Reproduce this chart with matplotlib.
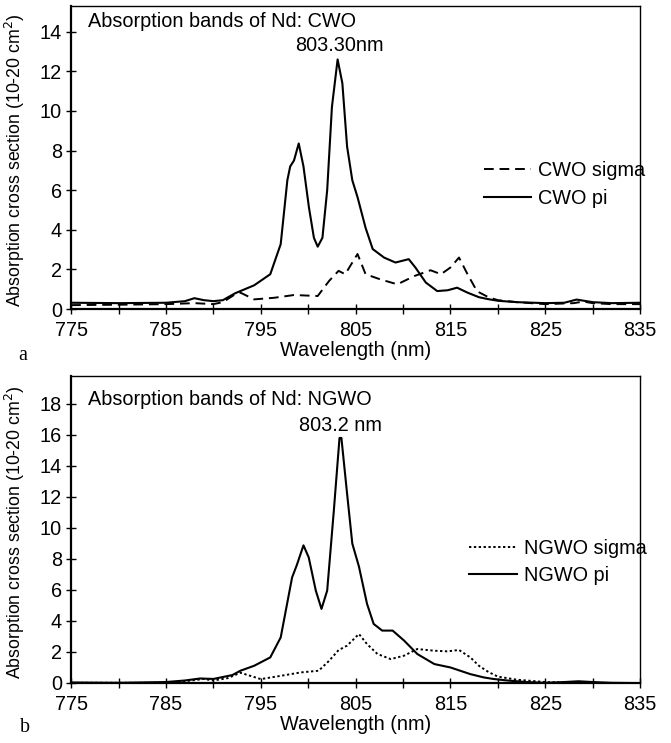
import matplotlib
matplotlib.use("Agg")
import matplotlib.pyplot as plt
import numpy as np

# ---------------------------------------------------------------------
# Values (x in nm, y in 10^-20 cm^2)
# ---------------------------------------------------------------------

cwo_pi_x = [775, 780, 785, 787, 788, 789, 790, 791, 792.3, 792.85, 794.3, 796.0, 797.1,
            797.8, 798.1, 798.5, 799.0, 799.5, 800.07, 800.6, 801.0, 801.5, 802.0,
            802.5, 803.1, 803.6, 804.1, 804.65, 805.2, 806.05, 806.8, 808.0, 809.2,
            810.6, 811.3, 812.4, 813.6, 814.7, 815.7, 816.8, 818.0, 819.0, 820, 822,
            825, 827, 828.3, 830, 832, 835]
cwo_pi_y = [0.32, 0.3, 0.32, 0.4, 0.55, 0.45, 0.4, 0.45, 0.8, 0.91, 1.2, 1.76, 3.28,
            6.5, 7.2, 7.5, 8.36, 7.2, 5.15, 3.6, 3.15, 3.6, 6.0,
            10.2, 12.6, 11.4, 8.2, 6.5, 5.65, 4.1, 3.03, 2.6, 2.35,
            2.52, 2.1, 1.34, 0.91, 0.95, 1.08, 0.83, 0.6, 0.5, 0.42, 0.35,
            0.3, 0.32, 0.48, 0.35, 0.3, 0.32]

cwo_sigma_x = [775, 780, 785, 788, 790, 791, 792.3, 792.85, 794.3, 796.4, 798.5, 801.0,
               802.2, 803.2, 803.9, 805.2, 806.05, 807.6, 809.4, 811.2, 812.9, 814.0,
               815.0, 815.9, 816.8, 817.8, 819, 820, 822, 825, 828, 829, 830, 832, 835]
cwo_sigma_y = [0.2, 0.22, 0.25, 0.3, 0.25, 0.35, 0.75, 0.83, 0.49, 0.57, 0.71, 0.66,
               1.42, 1.93, 1.76, 2.78, 1.76, 1.5, 1.25, 1.67, 1.96, 1.76,
               2.1, 2.6, 1.76, 0.9, 0.6, 0.45, 0.35, 0.25, 0.3, 0.38, 0.3, 0.25, 0.25]

ngwo_pi_x = [775, 780, 785, 787, 788.6, 790, 792, 792.85, 794.3, 796.0, 797.1, 798.3,
             798.8, 799.5, 800.05, 800.8, 801.4, 802.0, 802.7, 803.3, 803.5, 804.1,
             804.65, 805.35, 806.2, 806.9, 807.8, 808.9, 810.1, 811.5, 813.3, 815.0,
             817.1, 818.5, 819.5, 821, 823, 825, 827, 828.5, 830, 832, 835]
ngwo_pi_y = [0.02, 0.0, 0.05, 0.15, 0.28, 0.25, 0.5, 0.78, 1.1, 1.64, 2.93, 6.8,
             7.6, 8.87, 8.1, 5.95, 4.77, 5.95, 11.1, 15.8, 15.8, 12.2,
             8.98, 7.5, 5.1, 3.8, 3.37, 3.37, 2.73, 1.86, 1.21, 0.99,
             0.56, 0.35, 0.25, 0.15, 0.05, 0.0, 0.05, 0.1, 0.05, 0.0, -0.02]

ngwo_sigma_x = [775, 780, 785, 787, 789, 790, 791.5, 792.85, 795.0, 797.1, 799.2, 801.1,
                802.2, 803.2, 804.1, 805.35, 806.2, 807.3, 808.7, 810.1, 811.5, 813.3,
                814.7, 815.9, 817.1, 818, 819, 820, 822, 825, 828, 830, 835]
ngwo_sigma_y = [0.0, 0.0, 0.0, 0.1, 0.25, 0.15, 0.3, 0.65, 0.24, 0.45, 0.67, 0.78,
                1.42, 2.11, 2.4, 3.15, 2.5, 1.86, 1.53, 1.75, 2.18, 2.07,
                2.03, 2.12, 1.64, 1.1, 0.7, 0.4, 0.2, 0.05, 0.0, 0.0, -0.05]

x_major = np.arange(775, 836, 10)
x_minor = np.arange(780, 836, 10)

plt.rcParams['font.family'] = ['Liberation Sans', 'DejaVu Sans']
FS = 14.3


def style_axes(ax, ymax, yticks):
    """Common frame, ticks and labels for both panels."""
    ax.set_xlim(775, 835)
    ax.set_ylim(0, ymax)
    ax.set_xticks(x_major)
    ax.set_xticks(x_minor, minor=True)
    ax.set_yticks(yticks)
    ax.tick_params(axis='both', which='both', direction='inout', length=7,
                   width=1.0, labelsize=FS, color='black')
    ax.tick_params(axis='x', which='both', top=False, pad=5)
    ax.tick_params(axis='y', right=False, pad=3)
    for s in ax.spines.values():
        s.set_linewidth(1.0)
    ax.spines['bottom'].set_linewidth(1.6)
    ax.spines['left'].set_linewidth(1.6)
    ax.set_xlabel("Wavelength (nm)", fontsize=FS, labelpad=1)
    ax.set_ylabel("Absorption cross section (10-20 cm$^2$)", fontsize=12.8)
    ax.yaxis.set_label_coords(-0.078, 0.49)


fig = plt.figure(figsize=(6.71, 7.43), dpi=100)

# --- panel a -----------------------------------------------------------
ax1 = fig.add_axes([0.106, 0.584, 0.848, 0.408])
ax1.plot(cwo_sigma_x, cwo_sigma_y, color='black', lw=1.4,
         linestyle=(0, (5, 3)), label='CWO sigma')
ax1.plot(cwo_pi_x, cwo_pi_y, color='black', lw=1.5, label='CWO pi')
style_axes(ax1, 15.3, np.arange(0, 15, 2))
ax1.text(776.8, 14.5, "Absorption bands of Nd: CWO", fontsize=FS, va='center')
ax1.text(803.3, 13.3, "803.30nm", fontsize=FS, ha='center', va='center')
ax1.legend(loc='center left', bbox_to_anchor=(0.725, 0.41), frameon=False,
           handlelength=2.4, handletextpad=0.35, labelspacing=0.45, borderpad=0,
           borderaxespad=0, fontsize=FS)
fig.text(18 / 671, 1 - 355 / 743, "a", family='Liberation Serif', fontsize=FS,
         ha='left', va='center')

# --- panel b -----------------------------------------------------------
ax2 = fig.add_axes([0.106, 0.081, 0.848, 0.413])
ax2.plot(ngwo_sigma_x, ngwo_sigma_y, color='black', lw=1.4,
         linestyle=(0, (1.2, 1.3)), label='NGWO sigma')
ax2.plot(ngwo_pi_x, ngwo_pi_y, color='black', lw=1.5, label='NGWO pi')
style_axes(ax2, 19.8, np.arange(0, 19, 2))
ax2.text(776.8, 18.3, "Absorption bands of Nd: NGWO", fontsize=FS, va='center')
ax2.text(803.4, 16.6, "803.2 nm", fontsize=FS, ha='center', va='center')
ax2.legend(loc='center left', bbox_to_anchor=(0.70, 0.395), frameon=False,
           handlelength=2.4, handletextpad=0.35, labelspacing=0.4, borderpad=0,
           borderaxespad=0, fontsize=FS)
fig.text(20 / 671, 1 - 728 / 743, "b", family='Liberation Serif', fontsize=FS,
         ha='left', va='center')

fig.savefig("out.png", dpi=100)
